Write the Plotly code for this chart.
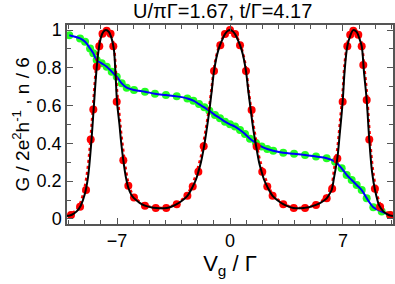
import plotly.graph_objects as go

# Conductance G (black solid curve)
g_x = [-10.1, -9.8, -9.5, -9.25, -9.0, -8.8, -8.6, -8.45, -8.3, -8.15, -8.0, -7.85, -7.69,
       -7.5, -7.35, -7.2, -7.1, -7.0, -6.85, -6.75, -6.61, -6.45, -6.3, -6.1, -5.95, -5.6,
       -5.27, -4.9, -4.58, -4.25, -3.92, -3.6, -3.3, -3.0, -2.64, -2.31, -2.1, -1.96, -1.8,
       -1.61, -1.45, -1.28, -1.13, -0.99, -0.8, -0.62, -0.45, -0.31, -0.15, 0.0,
       0.15, 0.31, 0.45, 0.62, 0.8, 0.99, 1.13, 1.28, 1.45, 1.61, 1.8, 1.96, 2.1, 2.31,
       2.64, 3.0, 3.3, 3.6, 3.92, 4.25, 4.58, 4.9, 5.33, 5.6, 5.99, 6.15, 6.3, 6.45, 6.65,
       6.8, 6.98, 7.1, 7.27, 7.45, 7.64, 7.85, 8.0, 8.16, 8.3, 8.47, 8.63, 8.8, 8.98, 9.25,
       9.5, 9.8, 10.1]
g_y = [0.015, 0.022, 0.04, 0.07, 0.13, 0.22, 0.40, 0.58, 0.76, 0.89, 0.96, 0.99, 1.0,
       0.99, 0.96, 0.90, 0.78, 0.62, 0.50, 0.41, 0.31, 0.22, 0.165, 0.125, 0.11, 0.085,
       0.07, 0.062, 0.058, 0.056, 0.058, 0.066, 0.078, 0.095, 0.122, 0.171, 0.21, 0.25, 0.30,
       0.383, 0.47, 0.573, 0.68, 0.783, 0.87, 0.92, 0.955, 0.979, 0.995, 1.0,
       0.995, 0.979, 0.955, 0.92, 0.87, 0.783, 0.68, 0.58, 0.47, 0.39, 0.30, 0.25, 0.21, 0.171,
       0.122, 0.095, 0.078, 0.066, 0.058, 0.056, 0.058, 0.062, 0.074, 0.085, 0.109, 0.13, 0.153,
       0.22, 0.32, 0.45, 0.62, 0.78, 0.915, 0.97, 1.0, 0.99, 0.96, 0.915, 0.78, 0.63, 0.42,
       0.25, 0.155, 0.07, 0.04, 0.022, 0.015]

# Conductance, second estimate (red dotted curve), same grid
gd_y = [0.018, 0.03, 0.05, 0.09, 0.17, 0.28, 0.47, 0.64, 0.80, 0.91, 0.97, 0.995, 1.0,
        0.995, 0.97, 0.92, 0.82, 0.68, 0.55, 0.46, 0.36, 0.26, 0.19, 0.14, 0.12, 0.09,
        0.074, 0.064, 0.06, 0.058, 0.06, 0.069, 0.082, 0.10, 0.13, 0.19, 0.235, 0.28, 0.33,
        0.42, 0.50, 0.60, 0.70, 0.80, 0.88, 0.93, 0.96, 0.982, 0.996, 1.0,
        0.996, 0.982, 0.96, 0.93, 0.88, 0.80, 0.70, 0.60, 0.50, 0.42, 0.33, 0.28, 0.235, 0.19,
        0.13, 0.10, 0.082, 0.069, 0.06, 0.058, 0.06, 0.064, 0.078, 0.09, 0.12, 0.145, 0.175,
        0.26, 0.37, 0.50, 0.67, 0.82, 0.93, 0.98, 1.0, 0.995, 0.97, 0.93, 0.82, 0.68, 0.48,
        0.30, 0.19, 0.09, 0.05, 0.03, 0.018]

# Conductance, sampled points (red dots)
gp_x = [-9.85, -9.29, -8.92, -8.63, -8.47, -8.26, -8.1, -7.9, -7.64, -7.4, -7.23, -7.02,
        -6.61, -6.3, -5.95, -5.27, -4.6, -3.95, -3.3, -2.64, -2.31, -1.96, -1.63, -0.99,
        -0.6, -0.31, 0.0, 0.31, 0.62, 0.99, 1.34, 1.65, 2.0, 2.31, 2.64, 3.3, 3.95, 4.65,
        5.33, 5.99, 6.33, 6.65, 6.98, 7.27, 7.45, 7.64, 7.95, 8.16, 8.26, 8.47, 8.63, 8.98,
        9.3, 9.93]
gp_y = [0.021, 0.065, 0.153, 0.42, 0.58, 0.806, 0.915, 0.98, 0.996, 0.98, 0.915, 0.62,
        0.31, 0.175, 0.113, 0.069, 0.058, 0.058, 0.078, 0.122, 0.171, 0.25, 0.385, 0.784,
        0.92, 0.979, 1.0, 0.979, 0.92, 0.784, 0.577, 0.383, 0.25, 0.171, 0.122, 0.078, 0.058,
        0.058, 0.074, 0.109, 0.16, 0.32, 0.62, 0.915, 0.975, 0.996, 0.975, 0.915, 0.815, 0.63,
        0.42, 0.16, 0.065, 0.021]

# Occupation n/6 (green dots, blue line)
n_x = [-9.96, -9.29, -8.98, -8.67, -8.47, -8.26, -7.95, -7.64, -7.33, -7.02, -6.71, -6.4,
       -5.95, -5.27, -4.65, -3.97, -3.3, -2.64, -2.27, -1.92, -1.59, -1.28, -0.93, -0.62,
       -0.31, 0.0, 0.31, 0.62, 0.93, 1.24, 1.61, 1.96, 2.31, 2.68, 3.3, 3.97, 4.65, 5.33,
       5.99, 6.51, 6.92, 7.23, 7.54, 7.85, 8.16, 8.47, 8.88, 9.4, 9.91]
n_y = [0.973, 0.956, 0.938, 0.903, 0.877, 0.841, 0.824, 0.806, 0.78, 0.753, 0.718, 0.695,
       0.683, 0.674, 0.663, 0.656, 0.649, 0.638, 0.626, 0.608, 0.591, 0.573, 0.55, 0.533,
       0.515, 0.501, 0.489, 0.471, 0.45, 0.424, 0.402, 0.383, 0.37, 0.361, 0.35, 0.345,
       0.339, 0.33, 0.321, 0.303, 0.268, 0.233, 0.206, 0.18, 0.153, 0.11, 0.062, 0.039, 0.021]

title_text = "U/πΓ=1.67, t/Γ=4.17"
x_title = "V<sub>g</sub> / Γ"
y_title = "G / 2e<sup>2</sup>h<sup>-1</sup> , n / 6"

fig = go.Figure()
fig.add_trace(go.Scatter(x=n_x, y=n_y, mode="markers",
                         marker=dict(color="#22ff22", size=8), showlegend=False))
fig.add_trace(go.Scatter(x=n_x, y=n_y, mode="lines", line=dict(color="#0000ff", width=2, shape="spline"),
                         showlegend=False))
fig.add_trace(go.Scatter(x=gp_x, y=gp_y, mode="markers",
                         marker=dict(color="#ff0000", size=8), showlegend=False))
fig.add_trace(go.Scatter(x=g_x, y=gd_y, mode="lines",
                         line=dict(color="#ff0000", width=2.5, dash="dot", shape="spline"), showlegend=False))
fig.add_trace(go.Scatter(x=g_x, y=g_y, mode="lines",
                         line=dict(color="#000000", width=2, shape="spline"), showlegend=False))

axis_common = dict(showgrid=False, zeroline=False, showline=True, linecolor="#555555", linewidth=1.5,
                   mirror="allticks", ticks="inside", tickcolor="#555555", ticklen=6, tickwidth=1.2,
                   tickfont=dict(size=18, color="#000000"), automargin=False)
fig.update_xaxes(range=[-10.1, 10.1], tickmode="linear", tick0=0, dtick=7,
                 minor=dict(tickmode="linear", tick0=0, dtick=1, ticks="inside", ticklen=4, tickcolor="#555555"),
                 title=dict(text=x_title, font=dict(size=22, color="#000000"), standoff=4),
                 **axis_common)
fig.update_yaxes(range=[-0.027, 1.027], tickmode="linear", tick0=0, dtick=0.2,
                 minor=dict(tickmode="linear", tick0=0, dtick=0.1, ticks="inside", ticklen=4, tickcolor="#555555"),
                 **axis_common)
fig.update_layout(width=395, height=284, margin=dict(l=67, r=2, t=25, b=60, autoexpand=False),
                  paper_bgcolor="white", plot_bgcolor="white", hovermode=False,
                  font=dict(family="Liberation Sans, Arial, sans-serif", color="#000000"),
                  annotations=[
                      dict(text=title_text, xref="paper", yref="paper", x=0.196, y=1.07,
                           xanchor="left", yanchor="middle", showarrow=False,
                           font=dict(size=20, color="#000000")),
                      dict(text=y_title, xref="paper", yref="paper", x=-0.144, y=0.5,
                           xanchor="center", yanchor="middle", textangle=-90, showarrow=False,
                           font=dict(size=19, color="#000000")),
                  ])
fig.write_html("out.html", config={"displayModeBar": False},
               post_script="document.body.style.margin='0px';")
